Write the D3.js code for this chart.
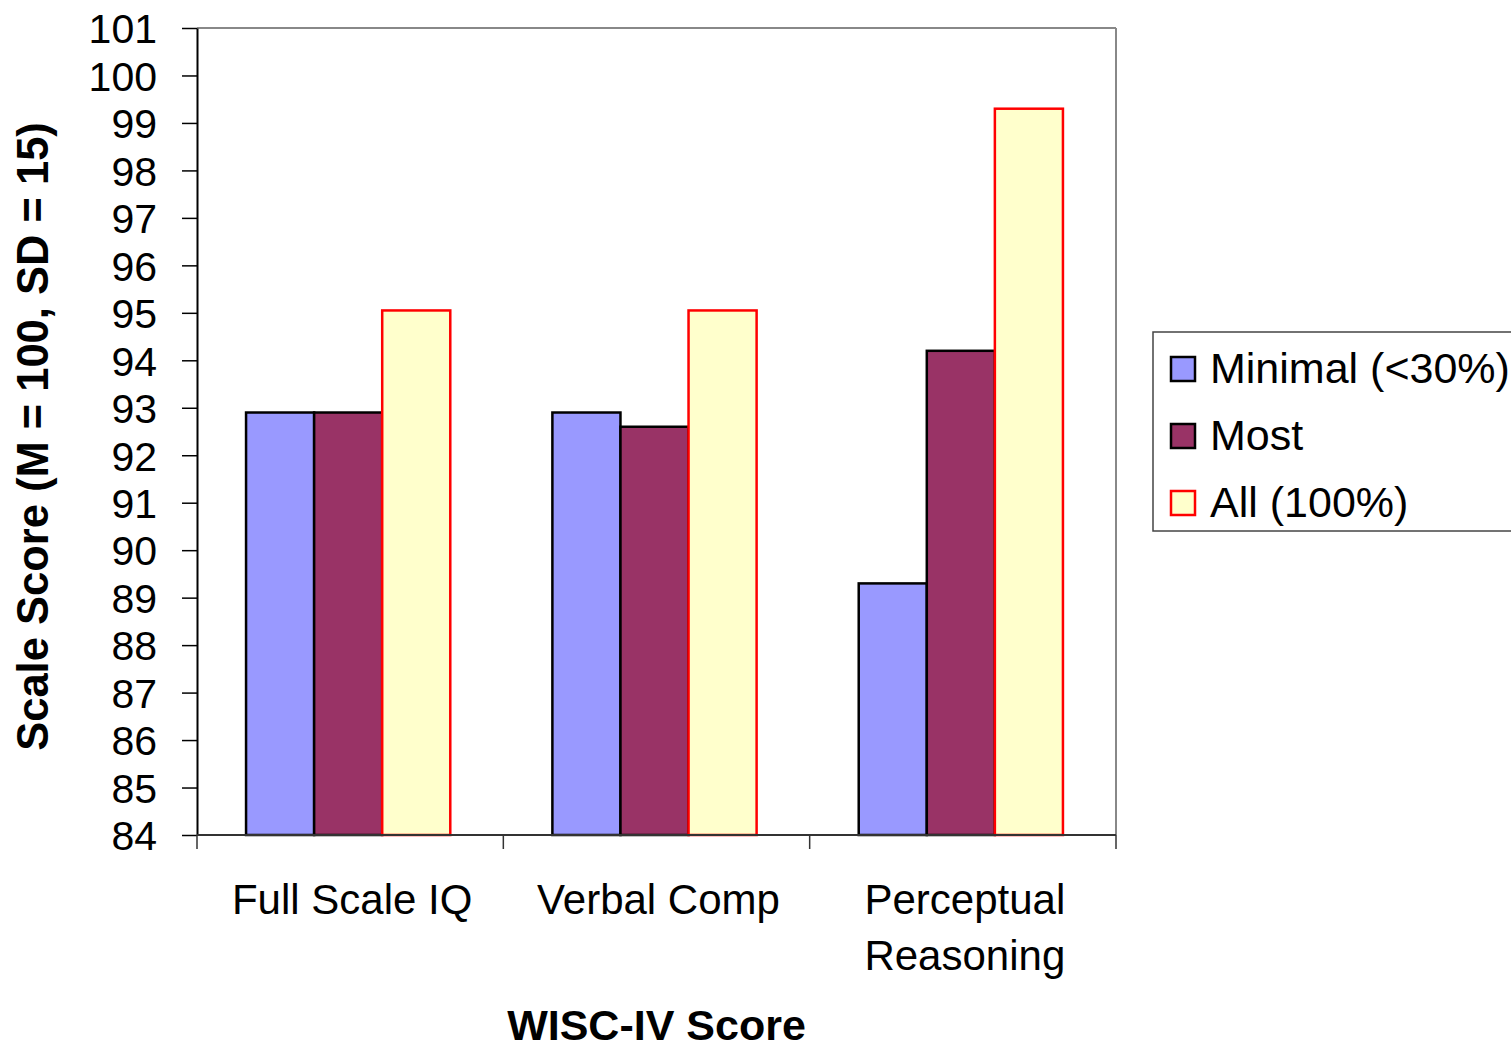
<!DOCTYPE html>
<html>
<head>
<meta charset="utf-8">
<script src="https://cdn.jsdelivr.net/npm/d3@7"></script>
<style>
  html, body { margin: 0; padding: 0; background: #fff; }
  svg { display: block; font-family: "Liberation Sans", Arial, sans-serif; }
</style>
</head>
<body>
<svg id="chart" width="1511" height="1048"></svg>
<script>
// WISC-IV scale scores by group
const categories = [["Full Scale IQ"], ["Verbal Comp"], ["Perceptual", "Reasoning"]];
const series = ["Minimal (<30%)", "Most", "All (100%)"];
const minimalValues = [92.9, 92.9, 89.3];
const mostValues = [92.9, 92.6, 94.2];
const allValues = [95.05, 95.05, 99.3];
const yTicks = d3.range(84, 102, 1);

const fills = ["#9999FF", "#993366", "#FFFFCC"];
const strokes = ["#000000", "#000000", "#FF0000"];

const svg = d3.select("#chart");
const margin = { left: 197, right: 1116, top: 28, bottom: 835 };

const catKeys = categories.map(c => c.join(" "));
const x = d3.scaleBand().domain(catKeys).range([margin.left, margin.right]).padding(0);
const xi = d3.scaleBand().domain(series).range([0, x.bandwidth()]).paddingInner(0).paddingOuter(0.75);
const y = d3.scaleLinear().domain([84, 101]).range([margin.bottom, margin.top]);

const valuesBySeries = [minimalValues, mostValues, allValues];

// top and right frame lines
svg.append("line").attr("x1", margin.left).attr("x2", margin.right)
  .attr("y1", margin.top).attr("y2", margin.top)
  .attr("stroke", "#888").attr("stroke-width", 2);
svg.append("line").attr("x1", margin.right).attr("x2", margin.right)
  .attr("y1", margin.top).attr("y2", margin.bottom)
  .attr("stroke", "#888").attr("stroke-width", 2);

// bars (groups nudged slightly left within each band)
series.forEach((s, si) => {
  svg.append("g").selectAll("rect")
    .data(valuesBySeries[si])
    .join("rect")
    .attr("x", (d, i) => x(catKeys[i]) + xi(s) - 2)
    .attr("y", d => y(d))
    .attr("width", xi.bandwidth())
    .attr("height", d => y(84) - y(d))
    .attr("fill", fills[si])
    .attr("stroke", strokes[si])
    .attr("stroke-width", 2.5);
});

// y axis
const yAxis = svg.append("g")
  .attr("transform", `translate(${margin.left},0)`)
  .call(d3.axisLeft(y).tickValues(yTicks).tickSize(15).tickPadding(26).tickSizeOuter(0));
yAxis.select(".domain").attr("stroke", "#000").attr("stroke-width", 2);
yAxis.selectAll(".tick line").attr("stroke", "#000").attr("stroke-width", 1.5);
yAxis.selectAll(".tick text")
  .attr("font-size", 41).attr("fill", "#000")
  .attr("font-family", "'Liberation Sans', Arial, sans-serif")
  .attr("dx", 0).attr("dy", "0.36em").attr("x", -40);

// x axis line with ticks at category boundaries
const xLine = svg.append("g");
xLine.append("line").attr("x1", margin.left).attr("x2", margin.right)
  .attr("y1", margin.bottom).attr("y2", margin.bottom)
  .attr("stroke", "#333").attr("stroke-width", 2);
const bounds = catKeys.map(k => x(k)).concat([x.range()[1]]);
xLine.selectAll("line.tk").data(bounds).join("line").attr("class", "tk")
  .attr("x1", d => d).attr("x2", d => d)
  .attr("y1", margin.bottom).attr("y2", margin.bottom + 14)
  .attr("stroke", "#333").attr("stroke-width", 1.5);

// category labels
categories.forEach((lines, i) => {
  const cx = x(catKeys[i]) + x.bandwidth() / 2 + 2;
  const t = svg.append("text")
    .attr("x", cx)
    .attr("y", 914)
    .attr("text-anchor", "middle")
    .attr("font-size", 42)
    .attr("fill", "#000");
  lines.forEach((ln, j) => {
    t.append("tspan").attr("x", cx)
      .attr("dy", j === 0 ? 0 : 56).text(ln);
  });
});

// axis titles
svg.append("text")
  .attr("x", (margin.left + margin.right) / 2)
  .attr("y", 1040)
  .attr("text-anchor", "middle")
  .attr("font-size", 43)
  .attr("font-weight", "bold")
  .text("WISC-IV Score");

svg.append("text")
  .attr("transform", `translate(48,${(margin.top + margin.bottom) / 2 + 5}) rotate(-90)`)
  .attr("text-anchor", "middle")
  .attr("font-size", 43.5)
  .attr("font-weight", "bold")
  .text("Scale Score (M = 100, SD = 15)");

// legend
const legend = svg.append("g").attr("transform", "translate(1153,332)");
legend.append("rect").attr("x", 0).attr("y", 0).attr("width", 400).attr("height", 199)
  .attr("fill", "#fff").attr("stroke", "#444").attr("stroke-width", 1.5);
series.forEach((s, si) => {
  const row = legend.append("g").attr("transform", `translate(0,${36 + si * 67})`);
  row.append("rect").attr("x", 18).attr("y", -11).attr("width", 24).attr("height", 24)
    .attr("fill", fills[si]).attr("stroke", strokes[si]).attr("stroke-width", 2.5);
  row.append("text").attr("x", 57).attr("y", 15)
    .attr("font-size", 43).attr("fill", "#000").text(s);
});
</script>
</body>
</html>
